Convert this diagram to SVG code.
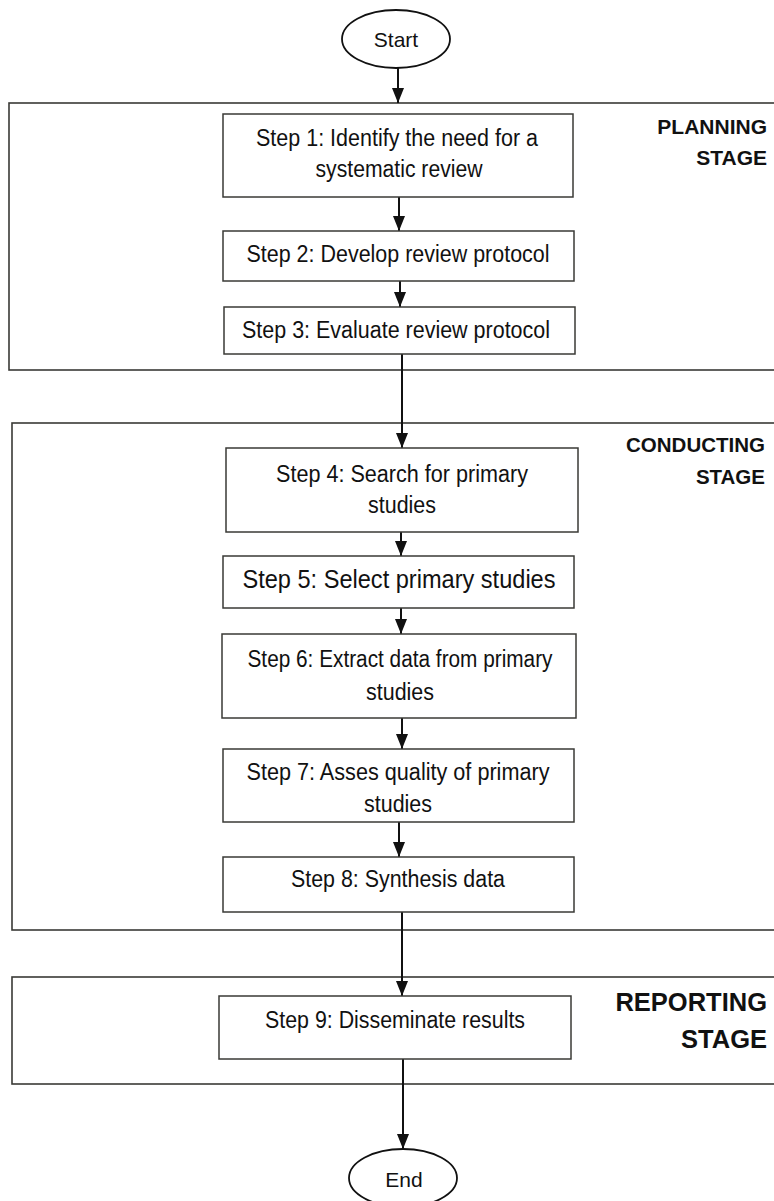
<svg xmlns="http://www.w3.org/2000/svg" width="774" height="1201" viewBox="0 0 774 1201">
  <style>
    .stage { fill: #ffffff; stroke: #3a3a36; stroke-width: 1.6; }
    .step { fill: #ffffff; stroke: #3a3a36; stroke-width: 1.5; }
    .term { fill: #ffffff; stroke: #111111; stroke-width: 1.8; }
    .txt { font-family: "Liberation Sans", Arial, sans-serif; font-size: 23px; fill: #111111; text-anchor: middle; }
    .term-txt { font-family: "Liberation Sans", Arial, sans-serif; font-size: 21px; fill: #111111; text-anchor: middle; }
    .label { font-family: "Liberation Sans", Arial, sans-serif; font-weight: bold; font-size: 21px; fill: #111111; text-anchor: end; }
    .flow { stroke: #111111; stroke-width: 2; fill: none; marker-end: url(#head); }
  </style>
  <defs>
    <!-- filled triangular arrowhead, tip at the end of the line -->
    <marker id="head" markerUnits="userSpaceOnUse" viewBox="0 0 15 12" markerWidth="15" markerHeight="12" refX="15" refY="6" orient="auto">
      <path d="M0,0 L15,6 L0,12 Z" fill="#111111"/>
    </marker>
  </defs>
  <rect width="774" height="1201" fill="#ffffff"/>

  <!-- stage frames -->
  <g id="planning-stage">
    <rect class="stage" x="9" y="103" width="800" height="267"/>
    <text class="label" x="767" y="134">PLANNING</text>
    <text class="label" x="767" y="165">STAGE</text>
  </g>
  <g id="conducting-stage">
    <rect class="stage" x="12" y="423" width="800" height="507"/>
    <text class="label" x="765" y="452" style="font-size:20.5px">CONDUCTING</text>
    <text class="label" x="765" y="484" style="font-size:20.5px">STAGE</text>
  </g>
  <g id="reporting-stage">
    <rect class="stage" x="12" y="977" width="800" height="107"/>
    <text class="label" x="767" y="1011" style="font-size:25.5px">REPORTING</text>
    <text class="label" x="767" y="1048" style="font-size:25.5px">STAGE</text>
  </g>

  <!-- connectors -->
  <g id="connectors">
    <line class="flow" x1="398" y1="68" x2="398" y2="103"/>
    <line class="flow" x1="399" y1="197" x2="399" y2="231"/>
    <line class="flow" x1="400" y1="281" x2="400" y2="307"/>
    <line class="flow" x1="402" y1="354" x2="402" y2="448"/>
    <line class="flow" x1="401" y1="532" x2="401" y2="556"/>
    <line class="flow" x1="401" y1="608" x2="401" y2="634"/>
    <line class="flow" x1="402" y1="718" x2="402" y2="749"/>
    <line class="flow" x1="399" y1="822" x2="399" y2="857"/>
    <line class="flow" x1="402" y1="912" x2="402" y2="996"/>
    <line class="flow" x1="403" y1="1059" x2="403" y2="1149"/>
  </g>

  <!-- terminals -->
  <g id="start">
    <ellipse class="term" cx="396" cy="39" rx="54" ry="29"/>
    <text class="term-txt" x="396" y="47">Start</text>
  </g>
  <g id="end">
    <ellipse class="term" cx="403" cy="1178" rx="54" ry="29"/>
    <text class="term-txt" x="404" y="1187">End</text>
  </g>

  <!-- steps -->
  <g id="step1">
    <rect class="step" x="223" y="114" width="350" height="83"/>
    <text class="txt" x="397" y="146" textLength="282" lengthAdjust="spacingAndGlyphs">Step 1: Identify the need for a</text>
    <text class="txt" x="399" y="177" textLength="167" lengthAdjust="spacingAndGlyphs">systematic review</text>
  </g>
  <g id="step2">
    <rect class="step" x="223" y="231" width="351" height="50"/>
    <text class="txt" x="398" y="262" textLength="303" lengthAdjust="spacingAndGlyphs">Step 2: Develop review protocol</text>
  </g>
  <g id="step3">
    <rect class="step" x="224" y="307" width="351" height="47"/>
    <text class="txt" x="396" y="338" textLength="308" lengthAdjust="spacingAndGlyphs">Step 3: Evaluate review protocol</text>
  </g>
  <g id="step4">
    <rect class="step" x="226" y="448" width="352" height="84"/>
    <text class="txt" x="402" y="482" textLength="252" lengthAdjust="spacingAndGlyphs">Step 4: Search for primary</text>
    <text class="txt" x="402" y="513" textLength="68" lengthAdjust="spacingAndGlyphs">studies</text>
  </g>
  <g id="step5">
    <rect class="step" x="223" y="556" width="351" height="52"/>
    <text class="txt" x="399" y="588" style="font-size:25px" textLength="313" lengthAdjust="spacingAndGlyphs">Step 5: Select primary studies</text>
  </g>
  <g id="step6">
    <rect class="step" x="222" y="634" width="354" height="84"/>
    <text class="txt" x="400" y="667" textLength="305" lengthAdjust="spacingAndGlyphs">Step 6: Extract data from primary</text>
    <text class="txt" x="400" y="700" textLength="68" lengthAdjust="spacingAndGlyphs">studies</text>
  </g>
  <g id="step7">
    <rect class="step" x="223" y="749" width="351" height="73"/>
    <text class="txt" x="398" y="780" textLength="303" lengthAdjust="spacingAndGlyphs">Step 7: Asses quality of primary</text>
    <text class="txt" x="398" y="812" textLength="68" lengthAdjust="spacingAndGlyphs">studies</text>
  </g>
  <g id="step8">
    <rect class="step" x="223" y="857" width="351" height="55"/>
    <text class="txt" x="398" y="887" textLength="214" lengthAdjust="spacingAndGlyphs">Step 8: Synthesis data</text>
  </g>
  <g id="step9">
    <rect class="step" x="219" y="996" width="352" height="63"/>
    <text class="txt" x="395" y="1028" textLength="260" lengthAdjust="spacingAndGlyphs">Step 9: Disseminate results</text>
  </g>
</svg>
